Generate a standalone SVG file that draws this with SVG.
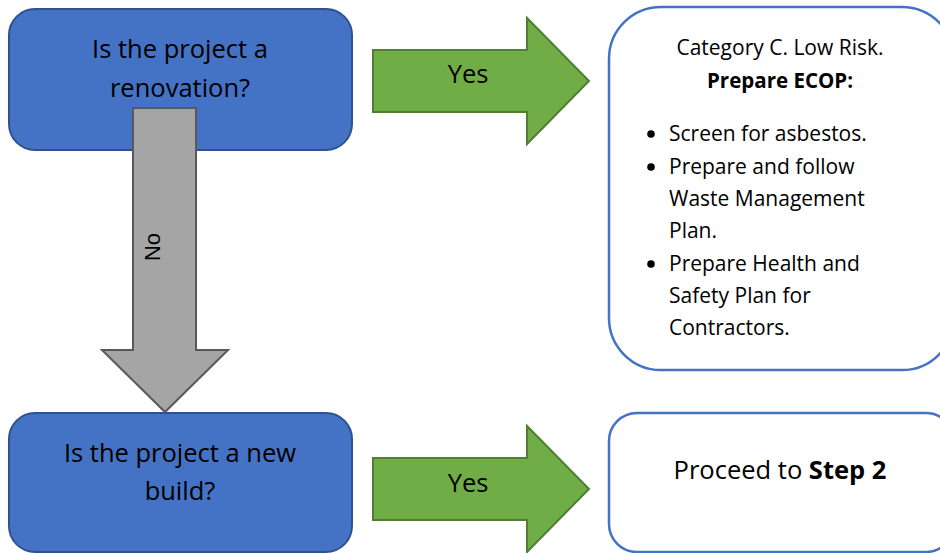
<svg xmlns="http://www.w3.org/2000/svg" width="940" height="553" viewBox="0 0 940 553">
<style>
.q{fill:#4472C4;stroke:#2F528F;stroke-width:2}
.r{fill:#FFFFFF;stroke:#4472C4;stroke-width:2.5}
.g{fill:#70AD47;stroke:#507E32;stroke-width:2}
.n{fill:#A5A5A5;stroke:#595959;stroke-width:2}
text{font-family:"Open Sans","Noto Sans",sans-serif;fill:#000}
.t1{font-size:25.5px;text-anchor:middle}
.t2{font-size:21px}
.t3{font-size:20.5px}
.c{text-anchor:middle}
.b{font-weight:bold}
</style>
<rect width="940" height="553" fill="#FFFFFF"/>
<g id="node-renovation">
<rect class="q" x="9" y="9" width="343" height="141" rx="26"/>
<text class="t1" x="180" y="58">Is the project a</text>
<text class="t1" x="180" y="97">renovation?</text>
</g>
<g id="node-newbuild">
<rect class="q" x="9" y="413" width="343" height="139" rx="26"/>
<text class="t1" x="180" y="462">Is the project a new</text>
<text class="t1" x="180" y="500">build?</text>
</g>
<g id="node-ecop">
<rect class="r" x="609" y="7" width="345" height="363" rx="52"/>
<text class="t2 c" x="780" y="55">Category C. Low Risk.</text>
<text class="t3 c b" x="780" y="88">Prepare ECOP:</text>
<g class="t2">
<circle cx="651" cy="134" r="3.8"/>
<text x="669" y="141">Screen for asbestos.</text>
<circle cx="651" cy="167" r="3.8"/>
<text x="669" y="174">Prepare and follow</text>
<text x="669" y="206">Waste Management</text>
<text x="669" y="238">Plan.</text>
<circle cx="651" cy="264" r="3.8"/>
<text x="669" y="271">Prepare Health and</text>
<text x="669" y="303">Safety Plan for</text>
<text x="669" y="335">Contractors.</text>
</g>
</g>
<g id="node-step2">
<rect class="r" x="609" y="413" width="345" height="139" rx="28"/>
<text class="t1" x="780" y="479">Proceed to <tspan class="b">Step 2</tspan></text>
</g>
<g id="connectors">
<g id="arrow-yes-1">
<polygon class="g" points="373,50 527,50 527,18 589,81 527,144 527,112 373,112"/>
<text class="t1" x="468" y="83">Yes</text>
</g>
<g id="arrow-yes-2">
<polygon class="g" points="373,458 527,458 527,426 589,489 527,552 527,520 373,520"/>
<text class="t1" x="468" y="492">Yes</text>
</g>
<g id="arrow-no">
<polygon class="n" points="133,108 196,108 196,350 228,350 165,412 102,350 133,350"/>
<text transform="translate(160,247) rotate(-90)" style="font-family:'Liberation Sans',Arial,sans-serif;font-size:22px" text-anchor="middle">No</text>
</g>
</g>
</svg>
